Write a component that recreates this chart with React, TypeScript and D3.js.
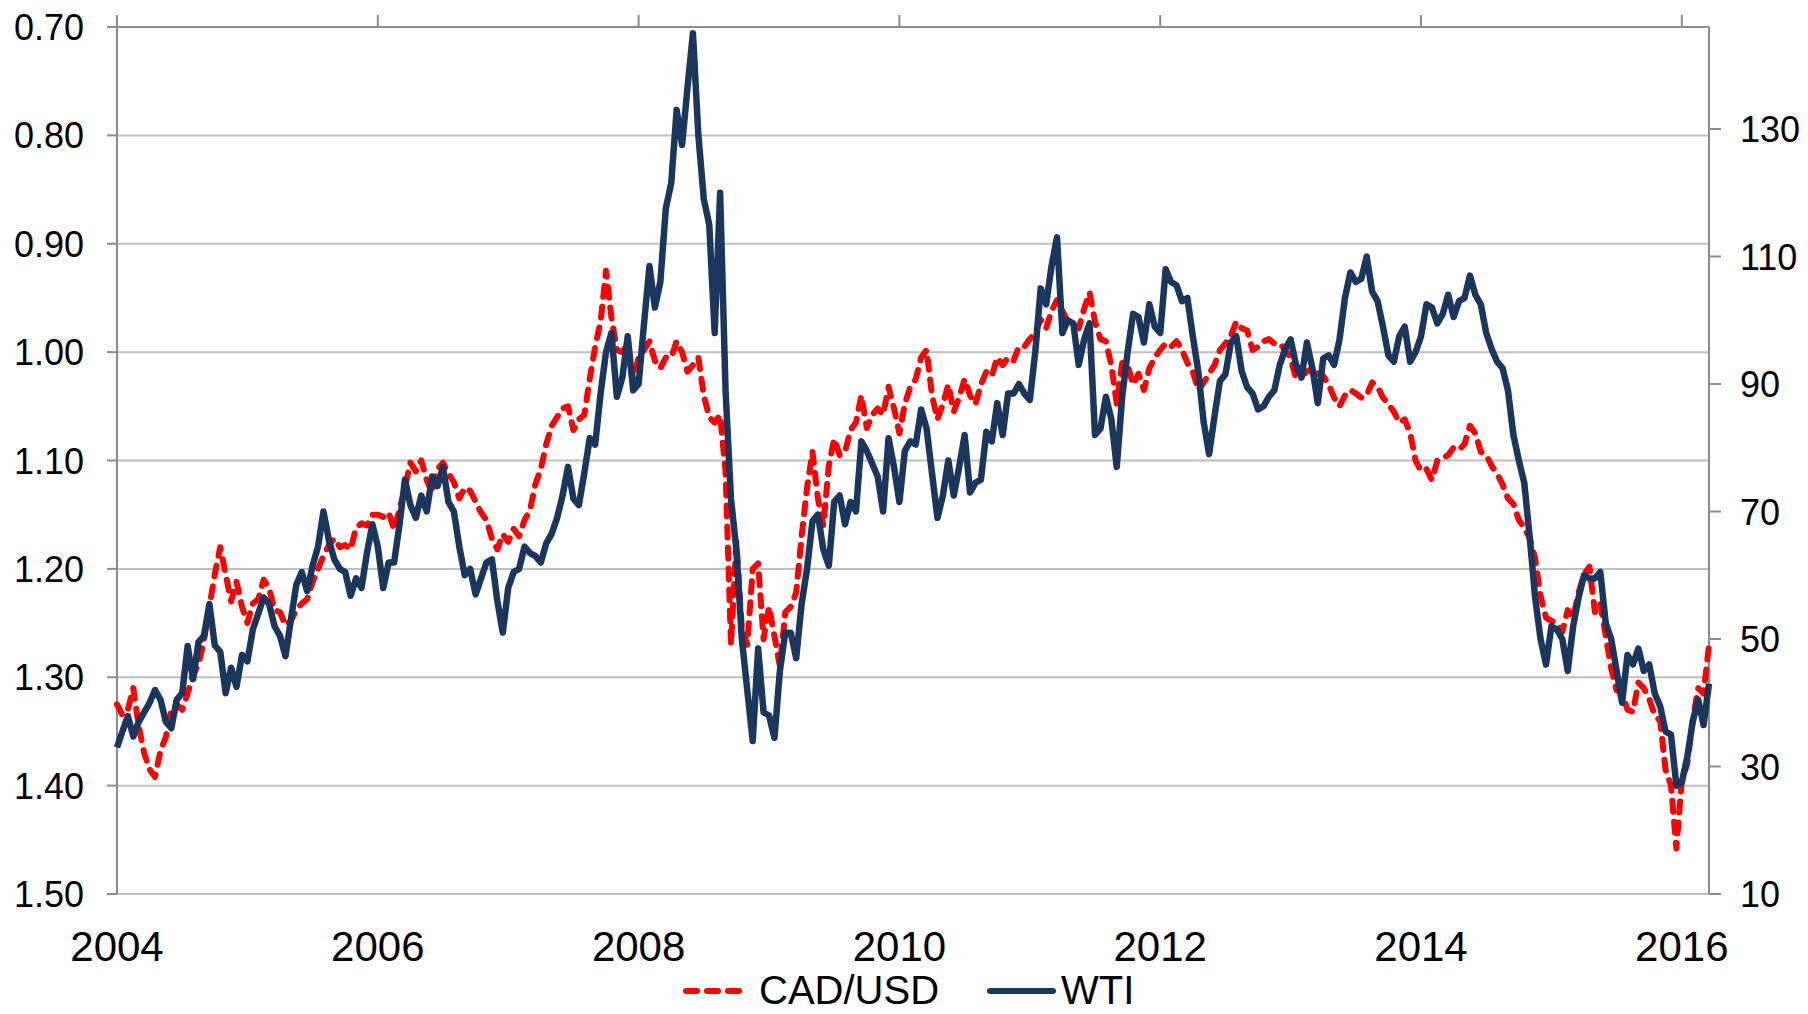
import React, { useRef, useEffect } from "react";
import * as d3 from "d3";

// chart size + plot box (px)
const width = 1808;
const height = 1014;
const plotLeft = 117;
const plotRight = 1709;
const plotTop = 27;
const plotBottom = 894;

const fontFamily = "'Liberation Sans', Arial, sans-serif";

// two observations per month, the first one sits on the left edge (2004)
const startYear = 2004;
const stepsPerYear = 24;

const yearTicks = [2004, 2006, 2008, 2010, 2012, 2014, 2016];
const cadTicks = [0.7, 0.8, 0.9, 1.0, 1.1, 1.2, 1.3, 1.4, 1.5];
const wtiTicks = [10, 30, 50, 70, 90, 110, 130];

const seriesNames = ["CAD/USD", "WTI"];

// left axis (reversed)
const cadUsd = [
  // 2004
  1.325, 1.335, 1.330, 1.310, 1.345, 1.370, 1.385, 1.392, 1.368, 1.355, 1.330, 1.325,
  1.330, 1.315, 1.298, 1.288, 1.266, 1.235, 1.205, 1.180, 1.205, 1.230, 1.212, 1.235,
  // 2005
  1.250, 1.232, 1.228, 1.210, 1.218, 1.238, 1.240, 1.252, 1.248, 1.238, 1.232, 1.228,
  1.212, 1.200, 1.188, 1.178, 1.172, 1.180, 1.178, 1.182, 1.162, 1.158, 1.160, 1.150,
  // 2006
  1.150, 1.152, 1.148, 1.164, 1.145, 1.125, 1.102, 1.110, 1.100, 1.118, 1.130, 1.108,
  1.102, 1.112, 1.120, 1.135, 1.125, 1.128, 1.138, 1.148, 1.155, 1.172, 1.182, 1.168,
  // 2007
  1.175, 1.163, 1.170, 1.155, 1.146, 1.122, 1.108, 1.085, 1.068, 1.060, 1.052, 1.050,
  1.072, 1.062, 1.058, 1.025, 0.995, 0.972, 0.925, 0.968, 0.998, 1.000, 0.992, 1.025,
  // 2008
  1.005, 0.998, 0.990, 1.008, 1.015, 1.005, 1.005, 0.990, 1.000, 1.018, 1.012, 1.005,
  1.040, 1.060, 1.065, 1.058, 1.110, 1.270, 1.175, 1.255, 1.270, 1.200, 1.195, 1.265,
  // 2009
  1.235, 1.262, 1.290, 1.240, 1.235, 1.222, 1.170, 1.125, 1.092, 1.135, 1.160, 1.105,
  1.080, 1.095, 1.092, 1.072, 1.065, 1.040, 1.070, 1.058, 1.052, 1.058, 1.032, 1.052,
  // 2010
  1.075, 1.048, 1.032, 1.025, 1.005, 0.998, 1.040, 1.062, 1.048, 1.030, 1.055, 1.042,
  1.025, 1.040, 1.048, 1.030, 1.018, 1.022, 1.005, 1.012, 1.005, 1.008, 0.995, 0.995,
  // 2011
  0.988, 0.982, 0.970, 0.978, 0.962, 0.952, 0.962, 0.972, 0.975, 0.978, 0.960, 0.945,
  0.972, 0.988, 0.990, 1.012, 1.048, 1.010, 1.012, 1.030, 1.020, 1.035, 1.015, 1.005,
  // 2012
  0.998, 0.992, 0.995, 0.990, 0.998, 1.010, 1.018, 1.035, 1.028, 1.020, 1.012, 0.998,
  0.992, 0.985, 0.972, 0.978, 0.980, 0.998, 0.995, 0.990, 0.988, 0.992, 0.992, 0.998,
  // 2013
  1.005, 1.025, 1.022, 1.018, 1.015, 1.020, 1.022, 1.030, 1.042, 1.050, 1.040, 1.035,
  1.038, 1.042, 1.040, 1.028, 1.032, 1.042, 1.048, 1.055, 1.065, 1.062, 1.075, 1.100,
  // 2014
  1.110, 1.108, 1.118, 1.100, 1.098, 1.095, 1.088, 1.090, 1.085, 1.068, 1.075, 1.092,
  1.095, 1.105, 1.112, 1.122, 1.135, 1.140, 1.155, 1.162, 1.172, 1.190, 1.225, 1.245,
  // 2015
  1.248, 1.250, 1.258, 1.238, 1.245, 1.222, 1.205, 1.198, 1.240, 1.232, 1.262, 1.292,
  1.312, 1.315, 1.330, 1.332, 1.305, 1.310, 1.320, 1.335, 1.340, 1.385, 1.400, 1.458,
  // 2016
  1.395, 1.380, 1.340, 1.310, 1.315, 1.270,
];

// right axis, USD/bbl
const wti = [
  // 2004
  33.0, 35.5, 37.9, 34.7, 37.0, 38.5, 40.0, 42.0, 40.5, 37.0, 36.0, 40.5,
  41.5, 48.9, 43.7, 49.5, 50.5, 55.5, 49.0, 48.0, 41.5, 45.5, 42.5, 47.5,
  // 2005
  46.5, 51.5, 54.0, 56.5, 55.5, 52.0, 50.5, 47.3, 53.0, 58.5, 60.5, 57.5,
  61.5, 64.5, 70.0, 65.5, 62.5, 61.0, 60.5, 56.8, 59.5, 58.0, 63.5, 68.0,
  // 2006
  64.5, 58.0, 62.0, 62.0, 68.0, 75.0, 71.0, 69.0, 72.5, 70.0, 75.5, 74.0,
  77.0, 71.5, 70.0, 64.5, 60.0, 61.0, 57.0, 59.5, 62.0, 62.5, 56.0, 51.0,
  // 2007
  58.0, 60.5, 61.0, 64.5, 63.5, 63.0, 62.0, 65.0, 66.5, 69.0, 72.5, 77.0,
  72.0, 71.0, 76.0, 81.5, 80.5, 88.5, 95.0, 98.0, 88.0, 91.0, 97.5, 89.0,
  // 2008
  90.0, 99.5, 108.5, 102.0, 106.0, 117.5, 121.5, 133.0, 127.5, 136.5, 145.0, 129.0,
  119.0, 115.0, 98.0, 120.0, 89.0, 72.0, 64.0, 50.0, 42.0, 34.0, 48.5, 38.5,
  // 2009
  38.0, 34.5, 45.0, 51.0, 51.0, 47.0, 55.5, 61.0, 68.5, 69.5, 64.0, 61.5,
  71.5, 72.5, 68.0, 71.5, 70.0, 81.0, 79.5, 77.5, 75.5, 70.0, 81.5, 77.0,
  // 2010
  71.5, 79.5, 81.0, 80.5, 86.0, 83.0, 76.0, 69.0, 72.5, 78.0, 72.5, 77.0,
  82.0, 73.0, 74.5, 75.0, 82.5, 81.0, 87.0, 82.0, 88.5, 88.5, 90.0, 88.5,
  // 2011
  87.5, 95.0, 105.0, 102.5, 108.5, 113.0, 98.0, 100.0, 99.5, 93.0, 97.0, 99.5,
  82.0, 83.0, 88.0, 84.5, 77.0, 88.0, 95.0, 101.0, 100.5, 96.5, 102.5, 99.0,
  // 2012
  98.0, 108.0, 106.0, 105.5, 103.0, 103.5, 97.5, 92.0, 84.0, 79.0, 85.0, 90.5,
  91.5, 96.5, 97.5, 92.0, 89.5, 88.5, 86.0, 86.5, 88.0, 89.0, 93.0, 95.5,
  // 2013
  97.0, 93.0, 91.0, 96.5, 92.5, 87.0, 94.0, 94.5, 93.0, 97.0, 103.5, 107.5,
  106.0, 106.5, 110.0, 104.5, 103.0, 99.0, 94.5, 93.5, 97.5, 99.0, 93.5, 95.0,
  // 2014
  97.5, 102.5, 102.0, 99.5, 101.0, 104.0, 100.5, 103.0, 103.5, 107.0, 104.0, 102.5,
  98.0, 95.5, 93.5, 92.5, 89.0, 82.0, 78.0, 74.5, 66.0, 56.5, 50.0, 46.0,
  // 2015
  52.0, 51.5, 50.0, 45.0, 52.0, 56.5, 60.0, 59.5, 59.5, 60.5, 52.5, 50.0,
  45.0, 40.0, 47.5, 46.0, 48.5, 45.0, 46.0, 41.5, 39.5, 35.5, 35.0, 27.0,
  // 2016
  27.5, 31.5, 37.0, 40.5, 36.5, 43.0,
];

const red = "#FF0000";
const navy = "#1B365D";
const gridColor = "#BFBFBF";
const axisColor = "#8C8C8C";

export default function App() {
  const svgRef = useRef<SVGSVGElement>(null);

  useEffect(() => {
    document.body.style.margin = "0";

    const svg = d3.select(svgRef.current);
    svg.selectAll("*").remove();

    const lastT = startYear + (wti.length - 1) / stepsPerYear;
    const x = d3.scaleLinear().domain([startYear, lastT]).range([plotLeft, plotRight]);
    const yCad = d3.scaleLinear().domain([0.7, 1.5]).range([plotTop, plotBottom]);
    const yWti = d3.scaleLinear().domain([10, 146]).range([plotBottom, plotTop]);
    const t = (i: number) => startYear + i / stepsPerYear;

    svg.append("rect").attr("width", width).attr("height", height).attr("fill", "#fff");

    // gridlines
    svg.append("g")
      .selectAll("line")
      .data(cadTicks.slice(1))
      .join("line")
      .attr("x1", plotLeft)
      .attr("x2", plotRight)
      .attr("y1", (d) => yCad(d))
      .attr("y2", (d) => yCad(d))
      .attr("stroke", gridColor)
      .attr("stroke-width", 2);

    const axes = svg.append("g").attr("stroke", axisColor).attr("stroke-width", 2);
    // top (date) axis, the value axis is reversed so it sits on top
    axes.append("line").attr("x1", plotLeft).attr("x2", plotRight).attr("y1", plotTop).attr("y2", plotTop);
    axes.selectAll(".xt")
      .data(yearTicks)
      .join("line")
      .attr("class", "xt")
      .attr("x1", (d) => x(d))
      .attr("x2", (d) => x(d))
      .attr("y1", plotTop)
      .attr("y2", plotTop - 12);
    // left axis
    axes.append("line").attr("x1", plotLeft).attr("x2", plotLeft).attr("y1", plotTop - 12).attr("y2", plotBottom);
    axes.selectAll(".yl")
      .data(cadTicks)
      .join("line")
      .attr("class", "yl")
      .attr("x1", plotLeft - 10)
      .attr("x2", plotLeft)
      .attr("y1", (d) => yCad(d))
      .attr("y2", (d) => yCad(d));
    // right axis
    axes.append("line").attr("x1", plotRight).attr("x2", plotRight).attr("y1", plotTop).attr("y2", plotBottom);
    axes.selectAll(".yr")
      .data(wtiTicks)
      .join("line")
      .attr("class", "yr")
      .attr("x1", plotRight)
      .attr("x2", plotRight + 12)
      .attr("y1", (d) => yWti(d))
      .attr("y2", (d) => yWti(d));

    const labels = svg.append("g").attr("font-family", fontFamily).attr("fill", "#000");
    labels.selectAll(".lx")
      .data(yearTicks)
      .join("text")
      .attr("class", "lx")
      .attr("x", (d) => x(d))
      .attr("y", 961)
      .attr("text-anchor", "middle")
      .attr("font-size", 42)
      .text((d) => String(d));
    labels.selectAll(".ll")
      .data(cadTicks)
      .join("text")
      .attr("class", "ll")
      .attr("x", 84)
      .attr("y", (d) => yCad(d) + 13)
      .attr("text-anchor", "end")
      .attr("font-size", 36)
      .text((d) => d3.format(".2f")(d));
    labels.selectAll(".lr")
      .data(wtiTicks)
      .join("text")
      .attr("class", "lr")
      .attr("x", 1740)
      .attr("y", (d) => yWti(d) + 13)
      .attr("text-anchor", "start")
      .attr("font-size", 36)
      .text((d) => String(d));

    // series
    const cadLine = d3.line<number>()
      .x((d, i) => x(t(i)))
      .y((d) => yCad(d));
    const wtiLine = d3.line<number>()
      .x((d, i) => x(t(i)))
      .y((d) => yWti(d));

    svg.append("path")
      .datum(cadUsd)
      .attr("d", cadLine)
      .attr("fill", "none")
      .attr("stroke", red)
      .attr("stroke-width", 6)
      .attr("stroke-dasharray", "11 10")
      .attr("stroke-linecap", "round")
      .attr("stroke-linejoin", "round");

    svg.append("path")
      .datum(wti)
      .attr("d", wtiLine)
      .attr("fill", "none")
      .attr("stroke", navy)
      .attr("stroke-width", 6.5)
      .attr("stroke-linejoin", "round");

    // legend
    const legend = svg.append("g").attr("font-family", fontFamily).attr("font-size", 40);
    legend.append("line")
      .attr("x1", 686).attr("x2", 746).attr("y1", 991).attr("y2", 991)
      .attr("stroke", red).attr("stroke-width", 6)
      .attr("stroke-dasharray", "11 10").attr("stroke-linecap", "round");
    legend.append("text").attr("x", 759).attr("y", 1004).text(seriesNames[0]);
    legend.append("line")
      .attr("x1", 990).attr("x2", 1053).attr("y1", 991).attr("y2", 991)
      .attr("stroke", navy).attr("stroke-width", 6).attr("stroke-linecap", "round");
    legend.append("text").attr("x", 1061).attr("y", 1004).text(seriesNames[1]);
  }, []);

  return (
    <div>
      <svg ref={svgRef} width={width} height={height} style={{ display: "block" }} />
    </div>
  );
}
